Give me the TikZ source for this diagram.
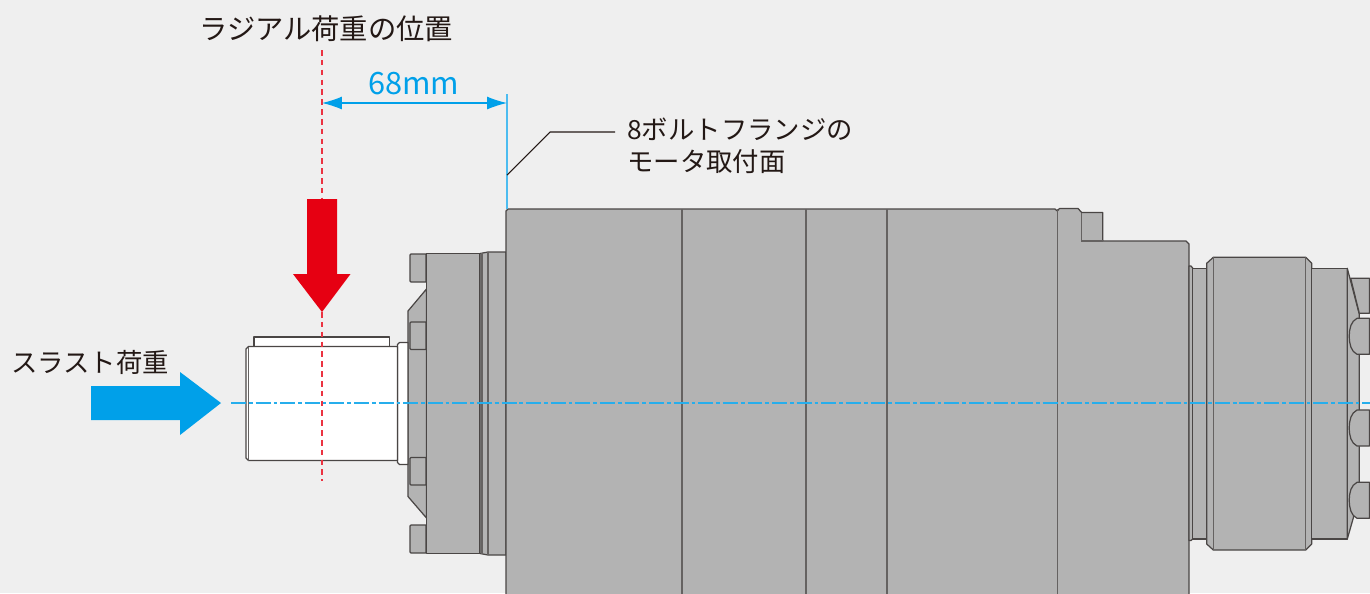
\documentclass[tikz,border=0pt]{standalone}
\usepackage{fontspec}
\usepackage{xcolor}
\usetikzlibrary{arrows.meta,positioning}
\setmainfont{Noto Sans CJK JP}
\definecolor{bgcol}{HTML}{EFEFEF}
\definecolor{bodycol}{HTML}{B3B3B3}
\definecolor{linecol}{HTML}{4A4645}
\definecolor{inkcol}{HTML}{231815}
\definecolor{dimblue}{HTML}{00A0E9}
\definecolor{loadred}{HTML}{E60012}

\begin{document}
\begin{tikzpicture}[x=0.02cm,y=-0.02cm]
\tikzstyle{part} = [
	draw=linecol, %outline of the housing parts
	fill=bodycol,
	line width=0.7pt,
	line join=round
];
\tikzstyle{shaftpart} = [
	part,
	fill=white
];
\tikzstyle{divide} = [
	draw=linecol!85,
	line width=0.65pt
];
\tikzstyle{caption} = [
	inkcol,
	inner sep=0pt,
	align=left,
	font=\fontsize{15}{18.2}\selectfont
];

\useasboundingbox (0,0) rectangle (1370,593);
\fill[bgcol] (0,0) rectangle (1370,593);

%flange on the shaft side
\draw[part] (426.5,289) -- (408,311) -- (408,496.5) -- (426.5,518) -- cycle;
\foreach \ya/\yb in {254/282,322/349.5,457.5/485,525/553}
	\draw[part] (426,\ya) -- (411,\ya) -- (410,\ya+1) -- (410,\yb-1) -- (411,\yb) -- (426,\yb) -- cycle;
\draw[part] (426.5,253.5) rectangle (480,553.5);
\draw[part] (480,253.5) -- (488,252) -- (506,252) -- (506,555) -- (488,555) -- (480,553.5) -- cycle;
\draw[divide] (482,253) -- (482,554);
\draw[divide] (488,252) -- (488,555);

%shaft with key
\draw[shaftpart] (254,346.5) -- (254,337) -- (389.5,337) -- (389.5,346.5);
\draw[shaftpart] (399.5,342.5) -- (408,342.5) -- (408,464.5) -- (399.5,464.5) -- (397.5,462.5) -- (397.5,344.5) -- cycle;
\draw[shaftpart] (248.5,346.5) -- (397.5,346.5) -- (397.5,460.5) -- (248.5,460.5) -- (246,458) -- (246,349) -- cycle;
\draw[divide] (248.5,346.5) -- (248.5,460.5);

%main housing
\draw[part] (506,598) -- (506,211) -- (508,209) -- (1055,209) -- (1057.3,211) -- (1059.5,208.5) -- (1078,208.5) -- (1081.7,212.5)
	-- (1102.7,212.5) -- (1102.7,241) -- (1186,241) -- (1189,244) -- (1189,598) -- cycle;
\draw[divide] (1081.7,212.5) -- (1081.7,241) -- (1102.7,241);
\foreach \xa in {682,806,887,1057.3}
	\draw[divide] (\xa,209) -- (\xa,598);

%rear section
\draw[part] (1189,266) -- (1191,266) -- (1192.7,268) -- (1192.7,539) -- (1191,540.5) -- (1189,540.5) -- cycle;
\draw[part] (1192.7,268.3) rectangle (1207,539);
\draw[part] (1206.7,263.3) -- (1213.3,257.3) -- (1305.7,257.3) -- (1311.7,263.3) -- (1311.7,544) -- (1305.7,550) -- (1213.3,550) -- (1206.7,544) -- cycle;
\draw[divide] (1213.3,257.3) -- (1213.3,550);
\draw[divide] (1305.7,257.3) -- (1305.7,550);
\draw[part] (1311.7,268.3) rectangle (1347.3,539);
\draw[part] (1347.3,268.3) -- (1359.3,314.3) -- (1359.3,482) -- (1353.3,518) -- (1347.3,539) -- cycle;
\draw[part] (1369.5,278.3) -- (1350.7,278.3) -- (1359.3,313.3) -- (1369.5,313.3) -- cycle;
\foreach \ya in {318.3,410,482.3}
	\draw[part] (1369.5,\ya) -- (1357,\ya) .. controls (1351,\ya+3) and (1349.3,\ya+10) .. (1349.3,\ya+18)
		.. controls (1349.3,\ya+26) and (1351,\ya+33) .. (1357,\ya+36) -- (1369.5,\ya+36) -- cycle;

%load arrows
\fill[loadred] (307,199) -- (337,199) -- (337,274) -- (350.5,274) -- (322,312) -- (293,274) -- (307,274) -- cycle;
\fill[dimblue] (91,386) -- (180,386) -- (180,372) -- (221,403) -- (180,435) -- (180,420) -- (91,420) -- cycle;

%reference lines
\coordinate (axisL) at (231,403);
\coordinate (axisR) at (1370,403);
\coordinate (radialT) at (322,50);
\coordinate (radialM) at (322,199);
\coordinate (radialU) at (322,312);
\coordinate (radialB) at (322,481);
\coordinate (dimL) at (322,103);
\coordinate (dimR) at (507,103);
\coordinate (faceT) at (507,94);
\coordinate (faceB) at (507,209);
\coordinate (leadA) at (507,175);
\coordinate (leadB) at (550,132);
\coordinate (leadC) at (615,132);

\draw[dimblue!85, line width=0.75pt, dash pattern=on 8.5pt off 1.7pt on 2.1pt off 1.7pt] (axisL) -- (axisR);
\draw[loadred!80, line width=0.7pt, dash pattern=on 3.2pt off 2.4pt] (radialT) -- (radialM);
\draw[loadred!80, line width=0.7pt, dash pattern=on 3.2pt off 2.4pt] (radialU) -- (radialB);
\draw[dimblue!70, line width=0.6pt] (faceT) -- (faceB);
\draw[{Latex[length=4mm,width=2.6mm]}-{Latex[length=4mm,width=2.6mm]}, line width=0.6pt, color=dimblue] (dimL) -- (dimR);
\draw[inkcol, line width=0.6pt] (leadA) -- (leadB) -- (leadC);

%labels
\node[caption, anchor=west, font=\fontsize{16.1}{20}\selectfont] (radialText) at (199,29) {ラジアル荷重の位置};
\node[caption, anchor=west, dimblue, font=\fontsize{17.5}{20}\selectfont] (dimText) at (368,84) {68mm};
\node[caption, anchor=west] (faceText) at (627,146) {8ボルトフランジの\\モータ取付面};
\node[caption, anchor=west] (thrustText) at (11,362) {スラスト荷重};
\end{tikzpicture}
\end{document}
